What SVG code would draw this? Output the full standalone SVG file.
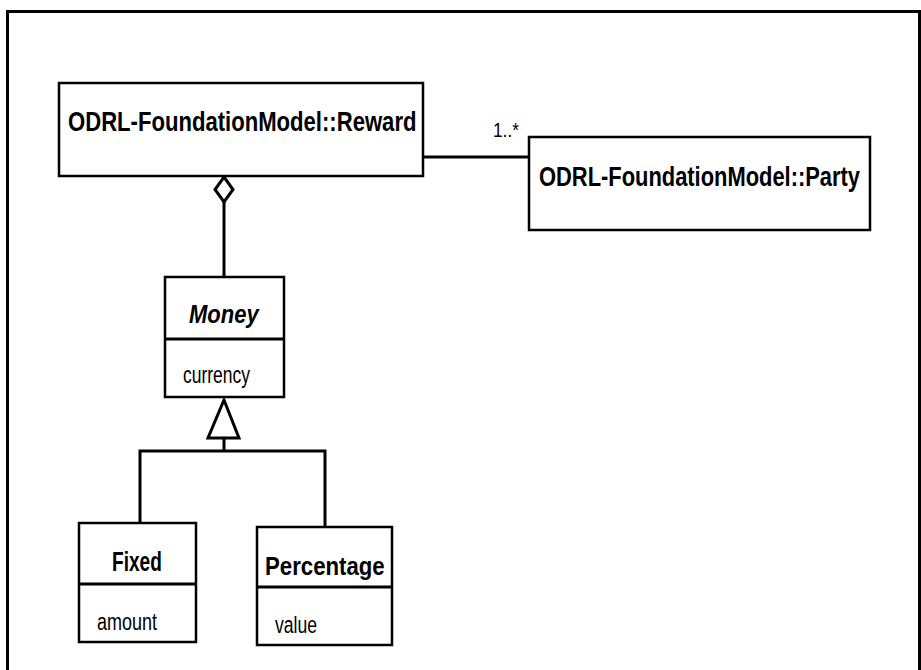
<svg xmlns="http://www.w3.org/2000/svg" width="921" height="670" viewBox="0 0 921 670">
<style>
.box{fill:#fff;stroke:#000;stroke-width:2.5}
.ln{fill:none;stroke:#000;stroke-width:3}
.t{font-family:"Liberation Sans",Arial,sans-serif;fill:#000}
.b{font-weight:bold}
</style>
<rect x="0" y="0" width="921" height="670" fill="#fff"/>
<rect x="7.5" y="11.5" width="912" height="680" fill="none" stroke="#000" stroke-width="3"/>
<g id="connectors">
<line class="ln" x1="423" y1="157" x2="529" y2="157"/>
<path class="ln" d="M224 202 V277"/>
<path d="M224 177 L233 189.5 L224 202 L215 189.5 Z" fill="#fff" stroke="#000" stroke-width="3"/>
<path class="ln" d="M224 438 V451 M140 523 V451 H325 V527"/>
<path d="M224 400 L239 438 L208 438 Z" fill="#fff" stroke="#000" stroke-width="3"/>
<text class="t" transform="translate(493 137) scale(1 1.21)" font-size="17.3">1..*</text>
</g>
<g id="reward">
<rect class="box" x="59" y="83" width="364" height="93"/>
<text class="t b" transform="translate(68 131) scale(1 1.26)" font-size="22.1">ODRL-FoundationModel::Reward</text>
</g>
<g id="party">
<rect class="box" x="529" y="137" width="341" height="93"/>
<text class="t b" transform="translate(539 186) scale(1 1.27)" font-size="21.9">ODRL-FoundationModel::Party</text>
</g>
<g id="money">
<rect class="box" x="165" y="277" width="119" height="120"/>
<line class="ln" x1="165" y1="339" x2="284" y2="339"/>
<text class="t b" transform="translate(189 323) scale(1 1.13)" font-size="22" font-style="italic">Money</text>
<text class="t" transform="translate(183 383) scale(1 1.37)" font-size="17.5">currency</text>
</g>
<g id="fixed">
<rect class="box" x="79" y="523" width="117" height="119"/>
<line class="ln" x1="79" y1="584" x2="196" y2="584"/>
<text class="t b" transform="translate(112 571) scale(1 1.41)" font-size="19.1">Fixed</text>
<text class="t" transform="translate(97 630) scale(1 1.33)" font-size="18">amount</text>
</g>
<g id="percentage">
<rect class="box" x="257" y="527" width="135" height="118"/>
<line class="ln" x1="257" y1="587" x2="392" y2="587"/>
<text class="t b" transform="translate(265 575) scale(1 1.17)" font-size="22.2">Percentage</text>
<text class="t" transform="translate(275 633) scale(1 1.36)" font-size="17.6">value</text>
</g>
</svg>
